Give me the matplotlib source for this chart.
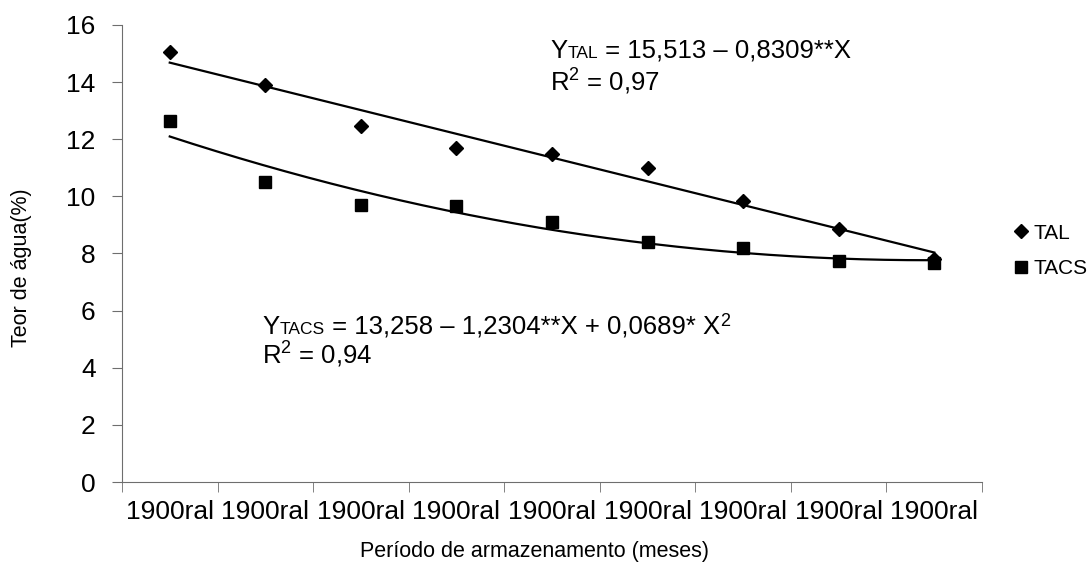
import matplotlib
matplotlib.use("Agg")
import matplotlib.pyplot as plt
from matplotlib.offsetbox import TextArea, HPacker, AnnotationBbox
import numpy as np

plt.rcParams['font.family'] = ['Liberation Sans', 'DejaVu Sans']
plt.rcParams['mathtext.fontset'] = 'custom'
plt.rcParams['mathtext.rm'] = 'Liberation Sans'
plt.rcParams['mathtext.it'] = 'Liberation Sans'

# dados
categorias = ['1900ral'] * 9
tal = [15.05, 13.9, 12.45, 11.7, 11.5, 11.0, 9.85, 8.85, 7.8]
tacs = [12.65, 10.5, 9.7, 9.65, 9.1, 8.4, 8.2, 7.75, 7.65]
# coeficientes das regressoes (maior grau primeiro)
coef_tal = [-0.8309, 15.513]
coef_tacs = [0.0689, -1.2304, 13.258]

x = np.arange(1, len(categorias) + 1)
xs = np.linspace(1, len(categorias), 200)

fig = plt.figure(figsize=(10.9, 5.73), dpi=100)
ax = fig.add_axes([0.1119, 0.1588, 0.789, 0.7976])

ax.plot(x, tal, linestyle='none', marker='D', ms=7, color='black', label='TAL')
ax.plot(x, tacs, linestyle='none', marker='s', ms=9, color='black', label='TACS')
ax.plot(xs, np.polyval(coef_tal, xs), color='black', lw=1.6)
ax.plot(xs, np.polyval(coef_tacs, xs), color='black', lw=1.6)

ax.set_xlim(0.5, len(categorias) + 0.5)
ax.set_ylim(0, 16)
ax.set_yticks(range(0, 17, 2))
ax.set_xticks(x)
ax.set_xticklabels(categorias)
ax.set_xticks(np.arange(0.5, len(categorias) + 1), minor=True)
ax.tick_params(axis='x', which='major', length=0, labelsize=19, pad=13)
ax.tick_params(axis='x', which='minor', length=7, color='#6e6e6e')
ax.tick_params(axis='y', length=7, color='#6e6e6e', labelsize=19, pad=12)

for s in ['top', 'right']:
    ax.spines[s].set_visible(False)
for s in ['left', 'bottom']:
    ax.spines[s].set_color('#6e6e6e')

fig.text(22 / 1090, 1 - 268 / 573, 'Teor de água(%)', fontsize=15.5,
         rotation=90, ha='center', va='center')
fig.text(535 / 1090, 1 - 552 / 573, 'Período de armazenamento (meses)', fontsize=15.5,
         ha='center', va='center')


def equacao(partes, xy):
    caixas = [TextArea(t, textprops=dict(fontsize=s)) for t, s in partes]
    pack = HPacker(children=caixas, align='baseline', pad=0, sep=0)
    ab = AnnotationBbox(pack, xy, xycoords='data', box_alignment=(0, 0.5),
                        frameon=False, pad=0)
    ax.add_artist(ab)


equacao([('Y', 18.5), ('TAL', 12.5), (' = 15,513 – 0,8309**X', 18.5)], (4.98, 15.09))
equacao([(r'R$^{2}$ = 0,97', 18.5)], (4.98, 14.0))
equacao([('Y', 18.5), ('TACS', 12.5), (' = 13,258 – 1,2304**X + 0,0689* X', 18.5),
         (r'$^{2}$', 18.5)], (1.97, 5.43))
equacao([(r'R$^{2}$ = 0,94', 18.5)], (1.97, 4.45))

fig.legend(loc='center left', bbox_to_anchor=(0.929, 1 - 251 / 573), frameon=False,
           fontsize=15, handletextpad=0.2, handlelength=0.8, labelspacing=0.8,
           borderpad=0, borderaxespad=0)

fig.savefig('out.png', dpi=100)
